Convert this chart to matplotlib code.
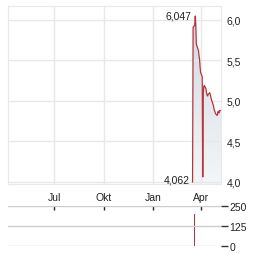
import matplotlib
matplotlib.use("Agg")
import matplotlib.pyplot as plt
import matplotlib.dates as mdates
import numpy as np
import pandas as pd

plt.rcParams["font.family"] = ["Liberation Sans", "DejaVu Sans"]

dates = pd.bdate_range("2023-03-16", "2023-05-08")
prices = [4.00, 5.91, 5.93, 6.047, 5.95, 5.70, 5.68, 5.62, 5.56, 5.52,
          5.42, 5.35, 5.30, 4.062, 5.10, 5.18, 5.19, 5.15, 5.10, 5.07,
          5.06, 5.08, 5.10, 5.08, 5.05, 5.02, 5.00, 4.94, 4.90, 4.88,
          4.86, 4.84, 4.82, 4.86, 4.87, 4.85, 4.88, 4.88]
volumes = [0, 0, 200] + [0] * 35
max_label = "6,047"
min_label = "4,062"
month_ticks = ["2022-07-01", "2022-10-01", "2023-01-01", "2023-04-01"]
month_labels = ["Jul", "Okt", "Jan", "Apr"]
price_ticks = [4.0, 4.5, 5.0, 5.5, 6.0]
vol_ticks = [0, 125, 250]

xmin, xmax = pd.Timestamp("2022-04-06"), pd.Timestamp("2023-05-08")
grid_c = "#e8e8e8"
red = "#b8343b"
txt = "#222222"

fig = plt.figure(figsize=(2.64, 2.55), dpi=100)
ax = fig.add_axes([8 / 264, 1 - 185 / 255, 213 / 264, 178 / 255])
ax.set_xlim(xmin, xmax)
ax.set_ylim(3.975, 6.17)

x = mdates.date2num(dates)
y = np.array(prices)
poly = ax.fill_between(x, y, 3.975, facecolor="none", edgecolor="none")
grad = np.linspace(1, 0, 100).reshape(-1, 1)
cmap = matplotlib.colors.LinearSegmentedColormap.from_list("g", ["#f3f6f8", "#cfd9e0"])
im = ax.imshow(grad, extent=[x[0], x[-1], 3.975, 6.1], aspect="auto", cmap=cmap,
               origin="upper", zorder=1)
im.set_clip_path(poly.get_paths()[0], transform=ax.transData)
ax.plot(x, y, color=red, lw=0.9, zorder=3)

imax = int(np.argmax(y))
imin = int(np.argmin(y))
ax.annotate(max_label, (x[imax], y[imax]), xytext=(-3, 0), textcoords="offset points",
            ha="right", va="center", fontsize=7.5, color=txt)
ax.annotate(min_label, (x[imin], y[imin]), xytext=(-2, 2), textcoords="offset points",
            ha="right", va="center", fontsize=7.5, color=txt)

ax.set_xticks(mdates.date2num(pd.to_datetime(month_ticks)))
ax.set_xticklabels(month_labels)
ax.set_yticks(price_ticks)
ax.set_yticklabels([f"{v:.1f}".replace(".", ",") for v in price_ticks])
ax.yaxis.tick_right()
ax.tick_params(axis="both", length=0, labelsize=7.5, colors=txt)
ax.tick_params(axis="x", pad=6)
ax.tick_params(axis="y", pad=4)
ax.grid(True, color=grid_c, lw=1)
for s in ax.spines.values():
    s.set_color(grid_c)

vax = fig.add_axes([8 / 264, 1 - 247 / 255, 213 / 264, 40 / 255])
vax.set_xlim(xmin, xmax)
vax.set_ylim(0, 250)
vax.bar(x, volumes, width=0.8, color=red)
vax.set_yticks(vol_ticks)
vax.yaxis.tick_right()
vax.tick_params(axis="y", length=5, width=1, color="#333333", labelsize=7.5, colors=txt, pad=1)
vax.set_xticks(mdates.date2num(pd.to_datetime(month_ticks)))
vax.xaxis.tick_top()
vax.tick_params(axis="x", direction="in", length=3, width=1, color="#222222", labeltop=False)
vax.grid(True, axis="y", color="#cccccc", lw=1)
for s in vax.spines.values():
    s.set_visible(False)

fig.savefig("out.png", dpi=100)
